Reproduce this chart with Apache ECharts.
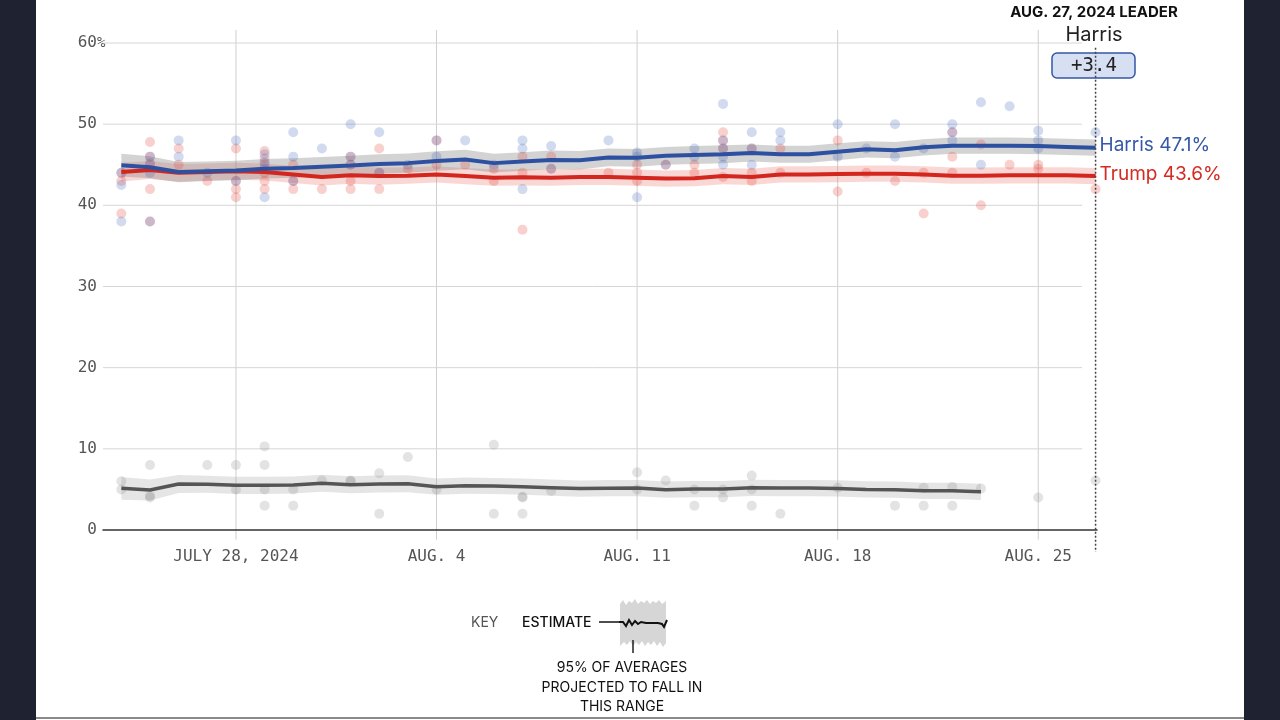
<!DOCTYPE html>
<html><head><meta charset="utf-8">
<script src="https://cdn.jsdelivr.net/npm/echarts@6/dist/echarts.min.js"></script>
<style>html,body{margin:0;padding:0;background:#fff;}#c{width:1280px;height:720px;}</style>
</head><body><div id="c"></div><script>
// Day index 0 = July 24, 2024 ... 34 = Aug. 27, 2024
const dayLabels = ['Jul 24','Jul 25','Jul 26','Jul 27','Jul 28','Jul 29','Jul 30','Jul 31','Aug 1','Aug 2','Aug 3','Aug 4','Aug 5','Aug 6','Aug 7','Aug 8','Aug 9','Aug 10','Aug 11','Aug 12','Aug 13','Aug 14','Aug 15','Aug 16','Aug 17','Aug 18','Aug 19','Aug 20','Aug 21','Aug 22','Aug 23','Aug 24','Aug 25','Aug 26','Aug 27'];
const tickDays = [4, 11, 18, 25, 32];
const tickLabels = ['JULY 28, 2024', 'AUG. 4', 'AUG. 11', 'AUG. 18', 'AUG. 25'];
const yTicks = [10, 20, 30, 40, 50, 60];

const harrisEst = [44.95,44.7,44.1,44.2,44.3,44.5,44.6,44.75,44.9,45.1,45.2,45.45,45.65,45.2,45.4,45.6,45.55,45.9,45.85,46.1,46.2,46.3,46.45,46.3,46.3,46.6,46.9,46.8,47.15,47.35,47.35,47.35,47.3,47.2,47.1];
const harrisBand = [1.4,1.35,1.25,1.2,1.2,1.2,1.2,1.2,1.2,1.2,1.2,1.2,1.2,1.15,1.15,1.15,1.15,1.1,1.1,1.1,1.1,1.1,1.05,1.05,1.05,1.05,1.0,1.0,1.0,1.0,1.0,1.0,1.0,1.0,1.0];
const trumpEst = [44.1,44.35,44.0,44.1,44.2,44.1,43.8,43.5,43.7,43.6,43.65,43.8,43.6,43.4,43.45,43.4,43.5,43.5,43.4,43.3,43.35,43.6,43.5,43.8,43.8,43.85,43.9,43.9,43.8,43.65,43.65,43.7,43.7,43.7,43.6];
const trumpBand = [1.15,1.1,1.1,1.05,1.05,1.05,1.05,1.05,1.05,1.05,1.0,1.0,1.0,1.0,1.0,1.0,1.0,1.0,1.0,1.0,1.0,1.0,1.0,1.0,1.0,1.0,1.0,1.0,1.0,1.0,1.0,1.0,1.0,1.0,1.0];
const otherEst = [5.13,4.93,5.67,5.63,5.5,5.5,5.54,5.75,5.58,5.67,5.71,5.34,5.46,5.42,5.34,5.22,5.1,5.15,5.17,4.96,5.04,5.04,5.2,5.17,5.17,5.12,5.0,4.96,4.83,4.83,4.71];
const otherBand = [1.4,1.3,1.1,1.05,1.05,1.05,1.05,1.05,1.05,1.05,1.05,1.0,1.0,1.0,1.0,1.0,1.0,1.0,1.0,1.0,1.0,1.0,1.0,1.0,1.0,1.0,1.0,1.0,1.0,1.0,1.0];

const harrisPolls = [[0,44],[0,42.5],[0,38],[1,46],[1,45.2],[1,44],[1,38],[2,48],[2,46],[3,44],[4,48],[4,43],[5,46.3],[5,45.3],[5,44.5],[5,41],[6,49],[6,46],[6,43],[7,47],[8,50],[8,46],[8,45],[9,49],[9,44],[10,45],[11,48],[11,46],[12,48],[13,45],[14,48],[14,47],[14,42],[15,47.3],[15,44.5],[17,48],[18,46.5],[18,46],[18,41],[19,45],[20,47],[20,46],[21,52.5],[21,48],[21,47],[21,46],[21,45],[22,49],[22,47],[22,45],[23,49],[23,48],[25,50],[25,46],[26,47],[27,50],[27,46],[28,47],[29,50],[29,49],[29,48],[30,52.7],[30,45],[31,52.2],[32,49.2],[32,48],[32,47],[34,49]];
const trumpPolls = [[0,44],[0,43],[0,39],[1,47.8],[1,46],[1,45],[1,42],[1,38],[2,47],[2,45],[3,43],[4,47],[4,43],[4,42],[4,41],[5,46.7],[5,45.8],[5,45],[5,44],[5,43],[5,42],[6,45],[6,43],[6,42],[7,42],[8,46],[8,45],[8,43],[8,42],[9,47],[9,44],[9,42],[10,44.5],[11,48],[11,45],[12,45],[13,44.5],[13,43],[14,46],[14,44],[14,37],[15,46],[15,44.5],[17,44],[18,45],[18,44],[18,43],[19,45],[20,45],[20,44],[21,49],[21,48],[21,47],[21,43.5],[22,47],[22,44],[22,43],[23,47],[23,44],[25,48],[25,41.7],[26,44],[27,43],[28,44],[28,39],[29,49],[29,46],[29,44],[30,47.5],[30,40],[31,45],[32,45],[32,44.5],[34,42]];
const otherPolls = [[0,6],[0,5],[1,8],[1,4],[1,4.2],[3,8],[4,8],[4,5],[5,10.3],[5,8],[5,5],[5,3],[6,5],[6,3],[7,6.1],[8,6],[8,6.1],[9,7],[9,2],[10,9],[11,5],[13,10.5],[13,2],[14,4],[14,4.1],[14,2],[15,4.8],[18,7.1],[18,5],[19,6.1],[20,5],[20,3],[21,5],[21,4],[22,6.7],[22,5],[22,3],[23,2],[25,5.2],[27,3],[28,5.2],[28,3],[29,5.3],[29,3],[30,5.1],[32,4],[34,6.1]];

const leaderDay = 34;
const leaderTitle = 'AUG. 27, 2024 LEADER';
const leaderName = 'Harris';
const leaderMargin = '+3.4';

const X_MIN = -0.64, X_MAX = 34.05, GRID_END = 33.53;

function bandSeries(est, band, color) {
  const data = est.map((v, i) => [i, +(v - band[i]).toFixed(2), +(v + band[i]).toFixed(2)]);
  return {
    type: 'custom', silent: true, z: 1, data: data,
    encode: { x: 0, y: [1, 2] },
    renderItem(params, api) {
      if (params.dataIndex !== 0) return null;
      const pts = [];
      for (let i = 0; i < data.length; i++) pts.push(api.coord([data[i][0], data[i][2]]));
      for (let i = data.length - 1; i >= 0; i--) pts.push(api.coord([data[i][0], data[i][1]]));
      return { type: 'polygon', shape: { points: pts }, style: { fill: color } };
    }
  };
}
function pointSeries(pts, color) {
  return { type: 'scatter', data: pts, symbolSize: 10, z: 3, silent: true,
    itemStyle: { color: color } };
}
function lineSeries(name, est, color, width, label) {
  const s = { type: 'line', name: name, data: est.map((v, i) => [i, v]), symbol: 'none', z: 5, silent: true,
    lineStyle: { color: color, width: width } };
  if (label) {
    s.endLabel = { show: true, formatter: p => p.seriesName + ' ' + p.value[1] + '%',
      color: label, fontFamily: 'Inter', fontSize: 19, distance: 4, offset: [0, -2] };
  }
  return s;
}

const chart = echarts.init(document.getElementById('c'));
chart.setOption({
  animation: false,
  backgroundColor: '#ffffff',
  grid: { left: 103, right: 183, top: 43, bottom: 190, containLabel: false },
  xAxis: {
    type: 'value', min: X_MIN, max: X_MAX,
    splitLine: { show: false }, axisTick: { show: false },
    axisLine: { show: true, lineStyle: { color: '#333', width: 1.5 } },
    axisLabel: { customValues: tickDays, formatter: v => tickLabels[tickDays.indexOf(v)],
      color: '#555', fontFamily: 'DejaVu Sans Mono', fontSize: 16, margin: 19 }
  },
  yAxis: {
    type: 'value', min: 0, max: 60, interval: 10,
    splitLine: { show: false }, axisTick: { show: false }, axisLine: { show: false },
    axisLabel: { color: '#555', fontFamily: 'DejaVu Sans Mono', fontSize: 16, margin: 6 }
  },
  series: [
    { type: 'custom', silent: true, z: 0, data: tickDays.map(d => [d]), encode: { x: 0 },
      renderItem(p, api) { const d = api.value(0); const a = api.coord([d, 61.6]), b = api.coord([d, -1.2]);
        return { type: 'line', shape: { x1: a[0], y1: a[1], x2: b[0], y2: b[1] }, style: { stroke: '#cfcfcf', lineWidth: 1 } }; } },
    { type: 'custom', silent: true, z: 0, data: yTicks.map(v => [v]), encode: { y: 0 },
      renderItem(p, api) { const v = api.value(0); const a = api.coord([X_MIN, v]), b = api.coord([GRID_END, v]);
        return { type: 'line', shape: { x1: a[0], y1: a[1], x2: b[0], y2: b[1] }, style: { stroke: '#d6d6d6', lineWidth: 1 } }; } },
    bandSeries(otherEst, otherBand, 'rgba(160,160,160,0.28)'),
    bandSeries(trumpEst, trumpBand, 'rgba(235,110,100,0.28)'),
    bandSeries(harrisEst, harrisBand, 'rgba(140,140,140,0.38)'),
    pointSeries(otherPolls, 'rgba(138,138,138,0.3)'),
    pointSeries(trumpPolls, 'rgba(225,65,55,0.3)'),
    pointSeries(harrisPolls, 'rgba(65,102,185,0.3)'),
    lineSeries('Other', otherEst, '#555555', 3.5, null),
    lineSeries('Trump', trumpEst, '#d2261f', 4, '#d42a22'),
    lineSeries('Harris', harrisEst, '#2d50a0', 4, '#3558aa'),
    { type: 'custom', silent: true, z: 10, data: [[leaderDay]], encode: { x: 0 },
      renderItem(p, api) { const d = api.value(0); const a = api.coord([d, 59.4]), b = api.coord([d, -2.7]);
        return { type: 'line', shape: { x1: a[0], y1: a[1], x2: b[0], y2: b[1] }, style: { stroke: '#444', lineWidth: 1.5, lineDash: [2, 2] } }; } }
  ],
  graphic: [
    { type: 'rect', shape: { x: 0, y: 0, width: 36, height: 720 }, style: { fill: '#1f2230' }, z: 100 },
    { type: 'rect', shape: { x: 1244, y: 0, width: 36, height: 720 }, style: { fill: '#1f2230' }, z: 100 },
    { type: 'line', shape: { x1: 36, y1: 718, x2: 1244, y2: 718 }, style: { stroke: '#8a8a8a', lineWidth: 2 } },
    { type: 'text', x: 97, y: 43, style: { text: '%', font: '14px "DejaVu Sans Mono"', fill: '#555', align: 'left', verticalAlign: 'middle' } },
    { type: 'text', x: 1094, y: 12, style: { text: leaderTitle, font: 'bold 15px Inter', fill: '#111', align: 'center', verticalAlign: 'middle' } },
    { type: 'text', x: 1094, y: 35, style: { text: leaderName, font: '20px Inter', fill: '#222', align: 'center', verticalAlign: 'middle' } },
    { type: 'rect', shape: { x: 1052, y: 53, width: 83, height: 25, r: 5 }, style: { fill: '#d7dff2', stroke: '#3457a6', lineWidth: 1.5 } },
    { type: 'text', x: 1094, y: 66, style: { text: leaderMargin, font: '19px "DejaVu Sans Mono"', fill: '#222', align: 'center', verticalAlign: 'middle' } },
    { type: 'text', x: 471, y: 623, style: { text: 'KEY', font: '14px Inter', fill: '#555', verticalAlign: 'middle' } },
    { type: 'text', x: 522, y: 623, style: { text: 'ESTIMATE', font: '500 14px Inter', fill: '#111', verticalAlign: 'middle' } },
    { type: 'line', shape: { x1: 599, y1: 622, x2: 619, y2: 622 }, style: { stroke: '#111', lineWidth: 1.5 } },
    { type: 'polygon', shape: { points: [[620,604],[623,600],[626,605],[629,601],[632,603],[635,599],[638,604],[641,601],[644,603],[647,600],[650,604],[653,601],[656,603],[659,600],[662,604],[666,601],[666,643],[663,647],[660,642],[657,646],[654,641],[651,645],[648,642],[645,646],[642,641],[639,645],[636,642],[633,646],[630,641],[627,645],[624,642],[620,646]] }, style: { fill: '#d6d6d6' } },
    { type: 'polyline', shape: { points: [[619,622],[623,622],[626,626],[629,620],[632,625],[635,621],[638,624],[641,622],[646,623],[652,623],[658,623],[662,624],[664,627],[667,620]] }, style: { stroke: '#111', lineWidth: 2, fill: null } },
    { type: 'line', shape: { x1: 633, y1: 640, x2: 633, y2: 653 }, style: { stroke: '#222', lineWidth: 1.5 } },
    { type: 'text', x: 622, y: 668, style: { text: '95% OF AVERAGES', font: '14px Inter', fill: '#111', align: 'center', verticalAlign: 'middle' } },
    { type: 'text', x: 622, y: 688, style: { text: 'PROJECTED TO FALL IN', font: '14px Inter', fill: '#111', align: 'center', verticalAlign: 'middle' } },
    { type: 'text', x: 622, y: 707, style: { text: 'THIS RANGE', font: '14px Inter', fill: '#111', align: 'center', verticalAlign: 'middle' } }
  ]
});
</script></body></html>
